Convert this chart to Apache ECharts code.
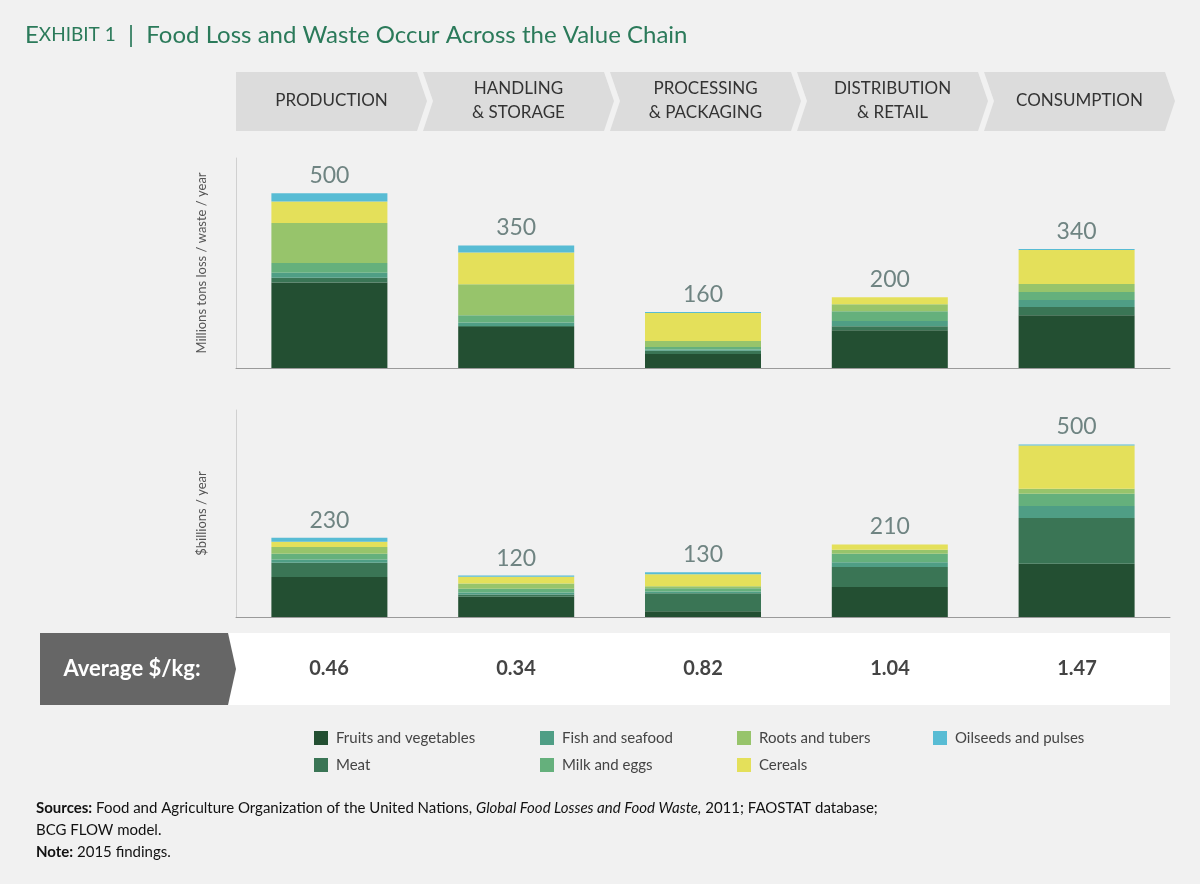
<!DOCTYPE html>
<html>
<head>
<meta charset="utf-8">
<script src="https://cdn.jsdelivr.net/npm/echarts@6/dist/echarts.min.js"></script>
<style>
  html, body { margin: 0; padding: 0; background: #f1f1f1; }
  #chart { width: 1200px; height: 884px; }
</style>
</head>
<body>
<div id="chart"></div>
<script>
// stages of the value chain
const stages = ['PRODUCTION', 'HANDLING\n& STORAGE', 'PROCESSING\n& PACKAGING', 'DISTRIBUTION\n& RETAIL', 'CONSUMPTION']
const groups = ['Fruits and vegetables', 'Meat', 'Fish and seafood', 'Milk and eggs', 'Roots and tubers', 'Cereals', 'Oilseeds and pulses']
const colors = ['#234f32', '#3a7555', '#4f9e85', '#65b07c', '#97c46b', '#e4e05a', '#58bcd4']

// millions tons loss / waste / year, per group, per stage
const tons = [
  [244, 117, 40, 108, 151],
  [14, 3, 9, 11, 23],
  [14, 10, 4, 15, 20],
  [28, 21, 7, 28, 23],
  [114, 88, 17, 20, 23],
  [62, 91, 80, 20, 97],
  [23, 20, 3, 0, 3]
]
const tonsTotal = [500, 350, 160, 200, 340]

// $billions / year
const dollars = [
  [116, 59, 17, 87, 154],
  [41, 6, 52, 58, 133],
  [10, 6, 5, 14, 35],
  [16, 11, 9, 24, 35],
  [20, 15, 6, 12, 15],
  [15, 20, 35, 15, 125],
  [12, 3, 6, 0, 3]
]
const dollarsTotal = [230, 120, 130, 210, 500]

const avgPerKg = ['0.46', '0.34', '0.82', '1.04', '1.47']

const chart = echarts.init(document.getElementById('chart'))
const font = 'Lato, "Open Sans", sans-serif'

function makeSeries(data, totals, idx) {
  let list = groups.map((g, i) => ({
    name: g,
    type: 'bar',
    stack: 's' + idx,
    xAxisIndex: idx,
    yAxisIndex: idx,
    barWidth: 116,
    itemStyle: { color: colors[i] },
    data: data[i]
  }))
  // invisible series carrying totals as labels
  list.push({
    type: 'bar',
    stack: 's' + idx,
    xAxisIndex: idx,
    yAxisIndex: idx,
    barWidth: 116,
    itemStyle: { color: 'transparent' },
    data: totals.map(() => 0),
    label: {
      show: true,
      position: 'top',
      distance: 6,
      color: '#6f8482',
      fontSize: 23,
      fontFamily: font,
      formatter: p => totals[p.dataIndex]
    }
  })
  return list
}

function axisPair(idx, name, nameGap) {
  return {
    x: {
      type: 'category', gridIndex: idx, data: stages,
      axisLine: { lineStyle: { color: '#9a9a9a' } },
      axisTick: { show: false }, axisLabel: { show: false }
    },
    y: {
      type: 'value', gridIndex: idx, min: 0, max: 600,
      name: name, nameLocation: 'middle', nameGap: nameGap, nameRotate: 90,
      nameTextStyle: { color: '#555', fontSize: 13, fontFamily: font },
      axisLine: { show: true, lineStyle: { color: '#d0d0d0' } },
      axisTick: { show: false }, axisLabel: { show: false }, splitLine: { show: false }
    }
  }
}
const a0 = axisPair(0, 'Millions tons loss / waste / year', 28)
const a1 = axisPair(1, '$billions / year', 28)

const graphics = []
// header chevrons
const cw = 187, x0 = 236
stages.forEach((s, i) => {
  const l = x0 + i * cw, r = l + cw - 6
  const pts = i === 0
    ? [[l, 72], [r, 72], [r + 10, 101], [r, 131], [l, 131]]
    : [[l, 72], [r, 72], [r + 10, 101], [r, 131], [l, 131], [l + 10, 101]]
  graphics.push({ type: 'polygon', shape: { points: pts }, style: { fill: '#dcdcdc' } })
  graphics.push({
    type: 'text', x: l + cw / 2 + 2, y: 101,
    style: { text: s, fill: '#333', font: '17px ' + font, align: 'center', verticalAlign: 'middle', lineHeight: 24 }
  })
})
// average $/kg band
graphics.push({ type: 'rect', shape: { x: 228, y: 633, width: 942, height: 72 }, style: { fill: '#ffffff' } })
graphics.push({ type: 'polygon', shape: { points: [[40, 633], [228, 633], [236, 669], [228, 705], [40, 705]] }, style: { fill: '#666666' } })
graphics.push({
  type: 'text', x: 132, y: 669,
  style: { text: 'Average $/kg:', fill: '#fff', font: 'bold 22px ' + font, align: 'center', verticalAlign: 'middle' }
})
avgPerKg.forEach((v, i) => {
  graphics.push({
    type: 'text', x: 329 + i * cw, y: 669,
    style: { text: v, fill: '#444', font: 'bold 20px ' + font, align: 'center', verticalAlign: 'middle' }
  })
})
// legend
const legPos = [[314, 738], [314, 765], [540, 738], [540, 765], [737, 738], [737, 765], [933, 738]]
groups.forEach((g, i) => {
  const [lx, ly] = legPos[i]
  graphics.push({ type: 'rect', shape: { x: lx, y: ly - 7, width: 14, height: 14 }, style: { fill: colors[i] } })
  graphics.push({
    type: 'text', x: lx + 22, y: ly,
    style: { text: g, fill: '#444', font: '15px ' + font, verticalAlign: 'middle' }
  })
})
// sources
graphics.push({
  type: 'text', x: 36, y: 797,
  style: {
    text: '{b|Sources:} Food and Agriculture Organization of the United Nations, {i|Global Food Losses and Food Waste,} 2011; FAOSTAT database;\nBCG FLOW model.\n{b|Note:} 2015 findings.',
    fill: '#111', font: '15px ' + font, lineHeight: 22,
    rich: {
      b: { fontWeight: 'bold', fontSize: 15, fontFamily: font, fill: '#111' },
      i: { fontStyle: 'italic', fontSize: 15, fontFamily: font, fill: '#111' }
    }
  }
})

chart.setOption({
  backgroundColor: '#f1f1f1',
  animation: false,
  title: {
    text: '{s|E}{m|XHIBIT 1}  |  Food Loss and Waste Occur Across the Value Chain',
    left: 20, top: 18,
    textStyle: {
      color: '#2b7a5a', fontSize: 24, fontWeight: 'normal', fontFamily: font,
      rich: {
        s: { fontSize: 24, color: '#2b7a5a', fontFamily: font },
        m: { fontSize: 19, color: '#2b7a5a', fontFamily: font }
      }
    }
  },
  grid: [
    { left: 236, right: 30, top: 158, bottom: 516 },
    { left: 236, right: 30, top: 410, bottom: 267 }
  ],
  xAxis: [a0.x, a1.x],
  yAxis: [a0.y, a1.y],
  series: [...makeSeries(tons, tonsTotal, 0), ...makeSeries(dollars, dollarsTotal, 1)],
  graphic: graphics
})
</script>
</body>
</html>
